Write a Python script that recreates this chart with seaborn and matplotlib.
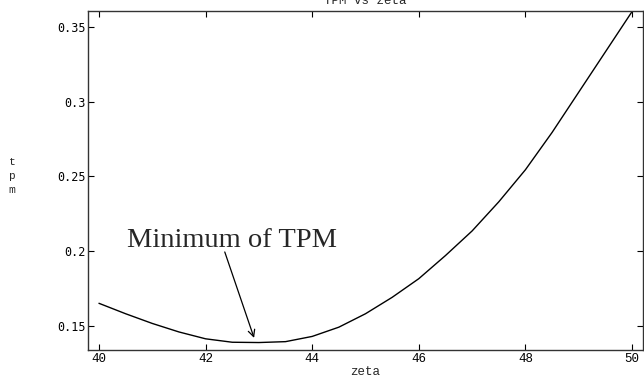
import numpy as np
import pandas as pd
import matplotlib
matplotlib.use('Agg')
import matplotlib.pyplot as plt
import seaborn as sns

# values
zeta = [40.0, 40.5, 41.0, 41.5, 42.0, 42.5, 43.0, 43.5, 44.0, 44.5, 45.0,
        45.5, 46.0, 46.5, 47.0, 47.5, 48.0, 48.5, 49.0, 49.5, 50.0]
tpm = [0.165, 0.158, 0.1515, 0.1458, 0.1412, 0.1389, 0.1387, 0.1393, 0.1428,
       0.149, 0.158, 0.169, 0.1815, 0.197, 0.2135, 0.233, 0.2545, 0.2795,
       0.3065, 0.3335, 0.3605]

x_ticks = [40, 42, 44, 46, 48, 50]
y_ticks = [0.15, 0.2, 0.25, 0.3, 0.35]
y_tick_labels = ['0.15', '0.2', '0.25', '0.3', '0.35']

df = pd.DataFrame({'zeta': zeta, 'tpm': tpm})

sns.set_style('ticks')
plt.rcParams['font.family'] = ['DejaVu Sans Mono', 'DejaVu Sans']

fig = plt.figure(figsize=(6.44, 3.77), dpi=100)
ax = fig.add_axes([88.3 / 644, 27 / 377, (642.7 - 88.3) / 644, (350 - 11) / 377])

sns.lineplot(data=df, x='zeta', y='tpm', ax=ax, color='black', linewidth=1.0)

ax.set_xlim(39.8, 50.2)
ax.set_ylim(0.1337, 0.3609)
ax.set_xticks(x_ticks)
ax.set_xticklabels([str(t) for t in x_ticks], family='Liberation Mono', fontsize=9)
ax.set_yticks(y_ticks)
ax.set_yticklabels(y_tick_labels, family='DejaVu Sans Mono', fontsize=8.5)
ax.tick_params(direction='in', length=4, width=0.8, top=True, right=True,
               colors='black', pad=2)
for s in ax.spines.values():
    s.set_linewidth(1.0)
    s.set_color('#333333')
    s.set_visible(True)

ax.set_xlabel('zeta', family='Liberation Mono', fontsize=9, labelpad=1)
ax.set_ylabel('t\np\nm', family='Liberation Mono', fontsize=8, rotation=0,
              linespacing=1.45, labelpad=0, va='center')
ax.yaxis.set_label_coords(-0.138, 0.513)
# title sits partly above the figure edge, as in the reference
ax.set_title('TPM vs zeta', family='Liberation Mono', fontsize=9, pad=5)

# label text and arrow
ax.text(42.49, 0.2027, 'Minimum of TPM', ha='center', va='baseline',
        family='Liberation Serif', fontsize=20.5)
ax.annotate('', xy=(42.91, 0.1418), xytext=(42.36, 0.1994),
            arrowprops=dict(arrowstyle='->', color='black', lw=0.9,
                            shrinkA=0, shrinkB=0, mutation_scale=12))

fig.savefig('out.png', dpi=100)
